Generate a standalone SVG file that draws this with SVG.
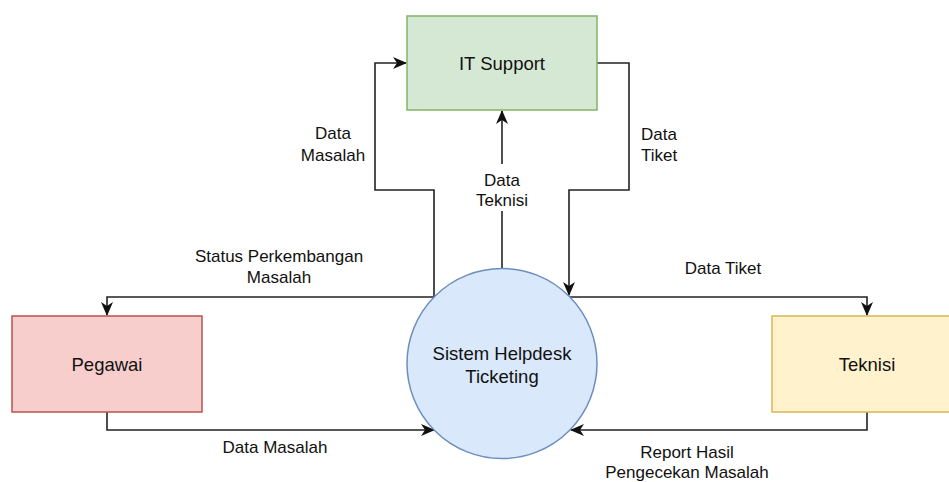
<svg xmlns="http://www.w3.org/2000/svg" width="949" height="482" viewBox="0 0 949 482">
  <style>
    .node-label { font-family: "Liberation Sans", Arial, sans-serif; font-size: 18.5px; fill: #111; text-anchor: middle; }
    .edge-label { font-family: "Liberation Sans", Arial, sans-serif; font-size: 17px; fill: #111; text-anchor: middle; }
    .flow { fill: none; stroke: #222; stroke-width: 1.6; }
  </style>
  <defs>
    <marker id="arrow" viewBox="0 0 14 12" refX="13" refY="6" markerWidth="14" markerHeight="12" markerUnits="userSpaceOnUse" orient="auto">
      <path d="M0,0 L14,6 L0,12 L4,6 Z" fill="#111"/>
    </marker>
  </defs>

  <rect width="949" height="482" fill="#ffffff"/>

  <!-- connectors -->
  <g id="connectors">
    <!-- Data Masalah: Sistem -> IT Support -->
    <path class="flow" d="M434,297 V190 H375 V63 H406" marker-end="url(#arrow)"/>
    <!-- Data Tiket: IT Support -> Sistem -->
    <path class="flow" d="M597,63 H629 V190 H569 V295" marker-end="url(#arrow)"/>
    <!-- Data Teknisi: Sistem -> IT Support -->
    <path class="flow" d="M502,268 V111" marker-end="url(#arrow)"/>
    <!-- Status Perkembangan Masalah: Sistem -> Pegawai -->
    <path class="flow" d="M434,297 H107 V315" marker-end="url(#arrow)"/>
    <!-- Data Tiket: Sistem -> Teknisi -->
    <path class="flow" d="M569,297 H867 V315" marker-end="url(#arrow)"/>
    <!-- Data Masalah: Pegawai -> Sistem -->
    <path class="flow" d="M107,412 V430 H434" marker-end="url(#arrow)"/>
    <!-- Report Hasil Pengecekan Masalah: Teknisi -> Sistem -->
    <path class="flow" d="M867,412 V430 H571" marker-end="url(#arrow)"/>

    <!-- edge labels -->
    <text class="edge-label" x="333" y="139">Data</text>
    <text class="edge-label" x="333" y="161">Masalah</text>
    <text class="edge-label" x="659" y="140">Data</text>
    <text class="edge-label" x="659" y="161">Tiket</text>
    <rect x="466" y="164" width="72" height="47" fill="#ffffff"/>
    <text class="edge-label" x="502" y="186">Data</text>
    <text class="edge-label" x="502" y="206">Teknisi</text>
    <text class="edge-label" x="279" y="262">Status Perkembangan</text>
    <text class="edge-label" x="279" y="283">Masalah</text>
    <text class="edge-label" x="723" y="274">Data Tiket</text>
    <text class="edge-label" x="275" y="453">Data Masalah</text>
    <text class="edge-label" x="687" y="458">Report Hasil</text>
    <text class="edge-label" x="687" y="478">Pengecekan Masalah</text>
  </g>

  <!-- nodes -->
  <g id="it-support">
    <rect x="407" y="16" width="190" height="94" fill="#d5e8d4" stroke="#82b366" stroke-width="1.5"/>
    <text class="node-label" x="502" y="69.5">IT Support</text>
  </g>
  <g id="pegawai">
    <rect x="12" y="316" width="190" height="96" fill="#f8cecc" stroke="#b85450" stroke-width="1.5"/>
    <text class="node-label" x="107" y="370.5">Pegawai</text>
  </g>
  <g id="teknisi">
    <rect x="772" y="316" width="190" height="96" fill="#fff2cc" stroke="#d6b656" stroke-width="1.5"/>
    <text class="node-label" x="867" y="370.5">Teknisi</text>
  </g>
  <g id="sistem-helpdesk">
    <circle cx="502" cy="363.5" r="95" fill="#dae8fc" stroke="#6c8ebf" stroke-width="1.5"/>
    <text class="node-label" x="502" y="359.5">Sistem Helpdesk</text>
    <text class="node-label" x="502" y="382.5">Ticketing</text>
  </g>
</svg>
